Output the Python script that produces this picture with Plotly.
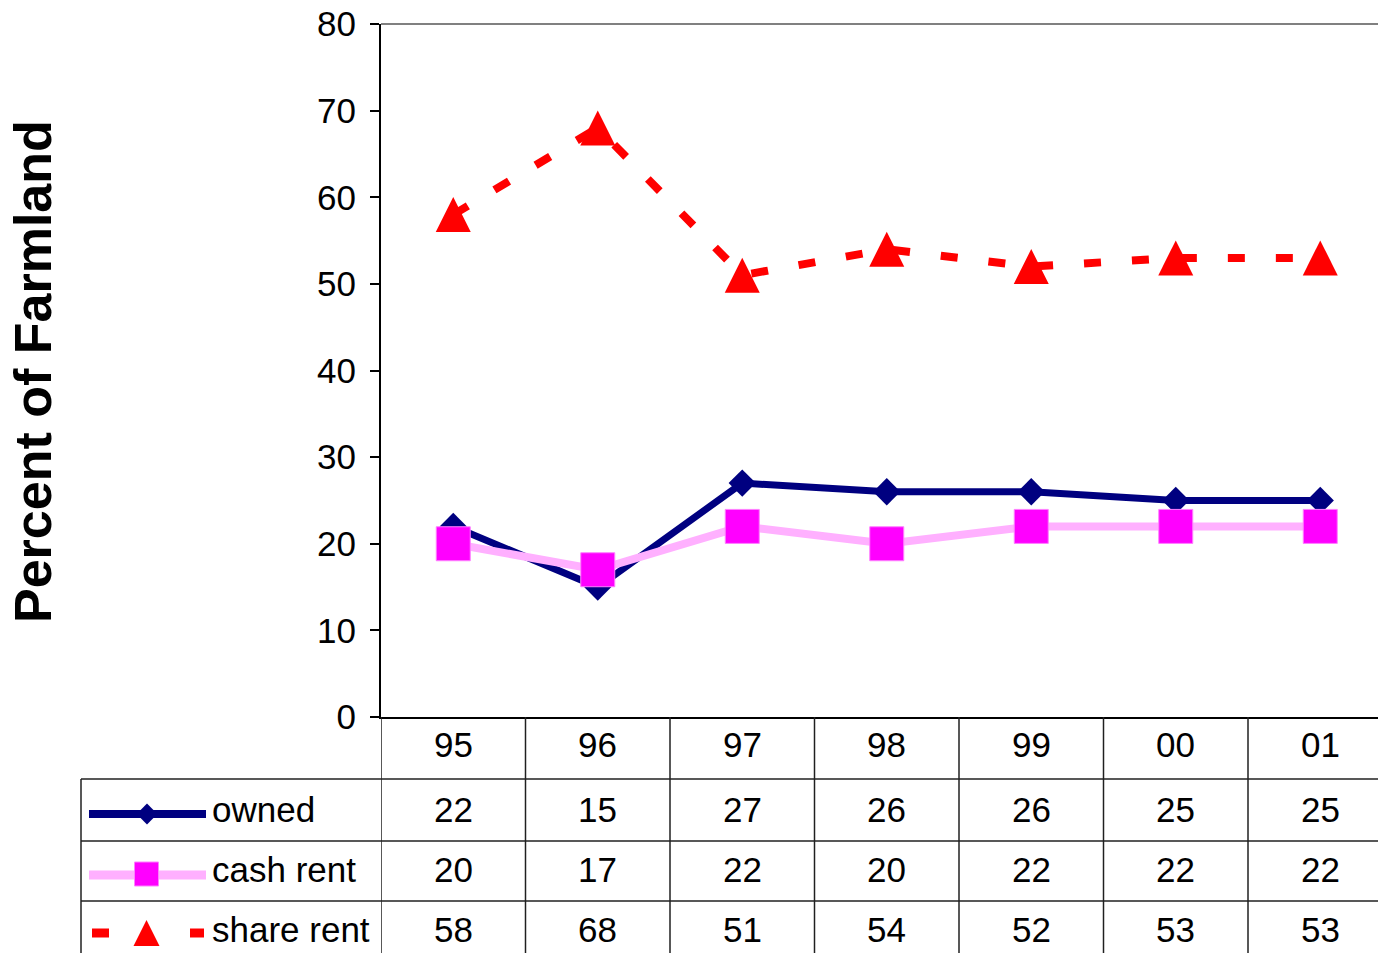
import plotly.graph_objects as go

# Share of farmland by tenure arrangement, 1995-2001
years = ["95", "96", "97", "98", "99", "00", "01"]
owned = [22, 15, 27, 26, 26, 25, 25]
cash_rent = [20, 17, 22, 20, 22, 22, 22]
share_rent = [58, 68, 51, 54, 52, 53, 53]
series_names = ["owned", "cash rent", "share rent"]
y_ticks = [0, 10, 20, 30, 40, 50, 60, 70, 80]
y_title = "Percent of Farmland"

W, H = 1378, 953
FONT = "Liberation Sans, Arial, sans-serif"

NAVY = "#000080"
PINK_LINE = "#ffb0ff"
MAGENTA = "#ff00ff"
RED = "#ff0000"

# plot area in pixels
PX_L, PX_R, PX_T, PX_B = 381, 1378, 24, 717
CAT_W = 144.5

xs = list(range(len(years)))

fig = go.Figure()

# --- data series -------------------------------------------------------
fig.add_trace(go.Scatter(
    x=xs, y=owned, name=series_names[0], mode="lines+markers",
    line=dict(color=NAVY, width=7),
    marker=dict(symbol="diamond", size=21, color=NAVY),
    xaxis="x", yaxis="y", cliponaxis=False,
))
fig.add_trace(go.Scatter(
    x=xs, y=cash_rent, name=series_names[1], mode="lines+markers",
    line=dict(color=PINK_LINE, width=8),
    marker=dict(symbol="square", size=34, color=MAGENTA,
                line=dict(color="#ff80ff", width=1)),
    xaxis="x", yaxis="y", cliponaxis=False,
))
fig.add_trace(go.Scatter(
    x=xs, y=share_rent, name=series_names[2], mode="lines",
    line=dict(color=RED, width=8, dash="17px,31px"),
    xaxis="x", yaxis="y", cliponaxis=False,
))
# upward triangles centred on the points (arrow turned round, pulled back by half its size)
fig.add_trace(go.Scatter(
    x=xs, y=share_rent, name=series_names[2], mode="markers",
    marker=dict(symbol="arrow-down", size=35, angle=180, standoff=17.5, color=RED),
    xaxis="x", yaxis="y", cliponaxis=False,
))

# --- legend keys drawn inside the data table (pixel overlay axes) ---------
leg_rows_y = [814, 875, 933]
fig.add_trace(go.Scatter(x=[89, 206], y=[leg_rows_y[0]] * 2, mode="lines",
                         line=dict(color=NAVY, width=8), xaxis="x2", yaxis="y2"))
fig.add_trace(go.Scatter(x=[147], y=[leg_rows_y[0]], mode="markers",
                         marker=dict(symbol="diamond", size=16, color=NAVY),
                         xaxis="x2", yaxis="y2"))
fig.add_trace(go.Scatter(x=[89, 206], y=[leg_rows_y[1]] * 2, mode="lines",
                         line=dict(color=PINK_LINE, width=9), xaxis="x2", yaxis="y2"))
fig.add_trace(go.Scatter(x=[146.5], y=[leg_rows_y[1] - 1], mode="markers",
                         marker=dict(symbol="square", size=24, color=MAGENTA,
                                     line=dict(color="#ff80ff", width=1)),
                         xaxis="x2", yaxis="y2"))
fig.add_trace(go.Scatter(x=[92, 109, None, 190, 204], y=[leg_rows_y[2]] * 5, mode="lines",
                         line=dict(color=RED, width=9), xaxis="x2", yaxis="y2"))
fig.add_trace(go.Scatter(x=[146.5], y=[leg_rows_y[2]], mode="markers",
                         marker=dict(symbol="arrow-down", size=26, angle=180,
                                     standoff=13, color=RED),
                         xaxis="x2", yaxis="y2"))

# --- data table grid ------------------------------------------------------
shapes = []
GRID = dict(color="#202020", width=1.5)
row_lines = [779, 841, 901]
for y in row_lines:
    shapes.append(dict(type="line", xref="x2", yref="y2", x0=81, x1=W, y0=y, y1=y, line=GRID))
shapes.append(dict(type="line", xref="x2", yref="y2", x0=81, x1=81, y0=779, y1=H, line=GRID))
for i in range(len(years)):
    shapes.append(dict(type="line", xref="x", yref="y2", x0=i - 0.5, x1=i - 0.5,
                       y0=PX_B, y1=H, line=GRID))
# light frame along the top of the plot area
shapes.append(dict(type="line", xref="x2", yref="y2", x0=PX_L, x1=W, y0=PX_T, y1=PX_T,
                   line=dict(color="#808080", width=2)))

annotations = []
TXT = dict(family=FONT, size=35, color="black")
header_y = 744
row_text_y = [809, 869, 929]
for i, yr in enumerate(years):
    annotations.append(dict(xref="x", yref="y2", x=i, y=header_y, text=yr, showarrow=False,
                            font=TXT, xanchor="center", yanchor="middle"))
for vals, ty in zip([owned, cash_rent, share_rent], row_text_y):
    for i, v in enumerate(vals):
        annotations.append(dict(xref="x", yref="y2", x=i, y=ty, text=str(v), showarrow=False,
                                font=TXT, xanchor="center", yanchor="middle"))
for name, ty in zip(series_names, row_text_y):
    annotations.append(dict(xref="x2", yref="y2", x=210, y=ty, text=name, showarrow=False,
                            font=TXT, xanchor="left", yanchor="middle"))
annotations.append(dict(xref="x2", yref="y2", x=33, y=372, text="<b>" + y_title + "</b>",
                        textangle=-90, showarrow=False, xanchor="center", yanchor="middle",
                        font=dict(family=FONT, size=52, color="black")))

fig.update_layout(
    width=W, height=H,
    margin=dict(l=0, r=0, t=0, b=0),
    paper_bgcolor="white", plot_bgcolor="rgba(0,0,0,0)",
    showlegend=False,
    shapes=shapes,
    annotations=annotations,
    xaxis=dict(
        domain=[PX_L / W, 1], range=[-0.5, -0.5 + (PX_R - PX_L) / CAT_W],
        showticklabels=False, ticks="", showgrid=False, zeroline=False,
        showline=True, linecolor="black", linewidth=2, anchor="y", fixedrange=True,
    ),
    yaxis=dict(
        domain=[(H - PX_B) / H, (H - PX_T) / H], range=[0, 80],
        tickmode="array", tickvals=y_ticks, ticktext=[str(t) for t in y_ticks],
        ticks="outside", ticklen=9, tickwidth=1.5, tickcolor="black",
        ticklabelstandoff=7,
        tickfont=TXT, showgrid=False, zeroline=False,
        showline=True, linecolor="black", linewidth=2, anchor="x",
        automargin=False, fixedrange=True,
    ),
    xaxis2=dict(domain=[0, 1], range=[0, W], visible=False, anchor="y2", fixedrange=True),
    yaxis2=dict(domain=[0, 1], range=[H, 0], visible=False, anchor="x2", fixedrange=True),
)

fig.write_html("out.html")
